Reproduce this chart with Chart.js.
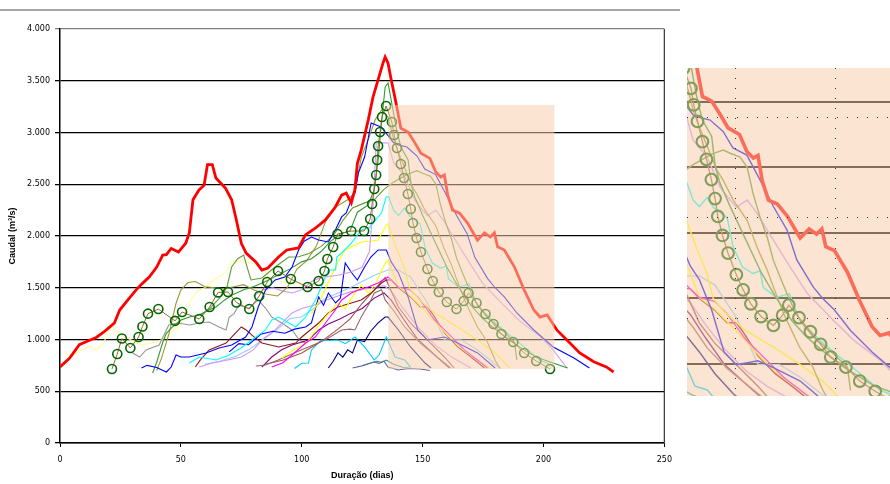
<!DOCTYPE html>
<html>
<head>
<meta charset="utf-8">
<script src="https://cdn.jsdelivr.net/npm/chart.js@4.4.1/dist/chart.umd.min.js"></script>
<style>
  html, body { margin: 0; padding: 0; background: #fff; overflow: hidden; width: 890px; height: 484px; }
  #rule { position: absolute; left: 0; top: 9px; width: 680px; border-top: 2px solid #a6a6a6; }
  #main { position: absolute; left: 0; top: 0; }
  #zoom { position: absolute; left: 687px; top: 68px; }
</style>
</head>
<body>
<div id="rule"></div>
<canvas id="main" width="680" height="484"></canvas>
<canvas id="zoom" width="203" height="328"></canvas>
<script>
// flood hydrographs: [day, flow m3/s]
const redFlow = [[0,735],[4,820],[8,950],[12,990],[15,1020],[18,1070],[20.5,1120],[22.5,1160],[24.7,1285],[28,1380],[31.5,1480],[34,1540],[37,1605],[40,1700],[42.5,1815],[44,1820],[46,1880],[49,1845],[52,1930],[53.5,2030],[55,2350],[57.5,2445],[59.6,2490],[61,2690],[63,2690],[64.5,2560],[68.5,2460],[71,2350],[73,2150],[75,1930],[77,1835],[81,1750],[83.5,1670],[86,1690],[90.5,1800],[93.8,1865],[98.7,1885],[101.5,2010],[105.6,2075],[109.8,2155],[113.9,2280],[116.5,2395],[118.4,2415],[120.5,2320],[122,2450],[123,2700],[124.6,2830],[127.5,3120],[129.5,3345],[131.6,3510],[133.6,3670],[134.5,3730],[135.7,3670],[137,3510],[139,3285],[141,3040],[144,3005],[146.8,2900],[149.3,2800],[153,2750],[155.4,2620],[157.5,2570],[159,2590],[160.4,2395],[162.4,2250],[165.3,2220],[168.6,2125],[172.7,1960],[175.6,2030],[178,1990],[179.7,2030],[181,1895],[183.8,1865],[188,1700],[192,1480],[196,1285],[198.6,1217],[201.5,1237],[205.6,1090],[209.7,995],[215,870],[220.8,785],[226,735],[229,686]];
const circleFlow = [[21.5,715],[23.7,860],[25.6,1010],[29.1,918],[32.5,1024],[34.1,1125],[36.4,1250],[40.7,1294],[47.6,1180],[50.5,1266],[57.6,1198],[61.9,1314],[65.4,1455],[69.5,1459],[73,1358],[78.3,1294],[82.4,1420],[85.7,1555],[90.2,1662],[95.5,1584],[102.4,1507],[107,1565],[109.4,1662],[110.6,1778],[113,1894],[114.8,2019],[120.5,2048],[125.8,2048],[128.3,2164],[129.1,2309],[130,2454],[130.8,2590],[131.2,2735],[131.6,2870],[132.4,3005],[133.2,3150],[134.9,3256],[137.3,3101],[138.2,2976],[139.4,2850],[141,2695],[142.3,2560],[143.9,2406],[145.1,2261],[146,2125],[147.5,1980],[149.3,1845],[152,1681],[154.2,1565],[156.7,1459],[160,1362],[164,1294],[167,1372],[169,1449],[172.3,1353],[176,1246],[179.3,1150],[182.6,1053],[187.5,976],[192,870],[197,792],[202.7,715]];
const greenFlow = [[38.3,676],[40,780],[42.4,966],[44,1060],[46.5,1121],[50,1188],[54,1220],[57.6,1237],[61,1280],[64.5,1314],[68,1380],[71.2,1430],[76,1480],[80,1510],[85,1560],[90,1620],[95,1680],[100,1750],[104,1780],[108,1850],[112,1950],[116,2020],[120,2050],[123,2230],[127.5,2300],[130,2450],[131.6,2735],[132.8,3053],[134.5,3440],[135.7,3478],[137,3314],[139,3053],[141,2860],[144,2735],[145.2,2500],[146.7,2379],[150,2200],[155,1950],[160,1700],[165,1500],[170,1330],[175,1200],[180,1100],[186,990],[192,900],[197,830],[203,780],[210,725]];
const leafFlow = [[58,1230],[62,1300],[66,1400],[69,1500],[71,1700],[73.5,1780],[76,1816],[77.4,1700],[79,1575],[83.5,1594],[89,1700],[94.6,1797],[98.7,1800],[103,1830],[108,1900],[113,2000],[117,2150],[121,2270],[126,2320],[130,2350],[134,2450],[138,2520],[141,2560],[144,2600],[147.7,2631],[150,2607],[153.2,2577],[155.5,2500],[157.4,2301],[159.7,2118],[162,1966],[164,1790],[166.2,1661],[168.4,1537],[170.4,1433],[173,1320],[177,1205],[183.4,1080],[188,976],[189,800]];
const oliveFlow = [[40,700],[42,820],[45,1050],[48,1350],[50,1480],[53,1550],[56,1560],[60,1510],[64,1500],[68,1490],[72,1510],[76,1530],[80,1480],[85,1440],[90,1420],[94,1500],[98,1680],[102,1760],[106,1900],[110,2150],[114,2280],[119,2350],[122,2420],[124.6,2760],[127.5,2930],[130.3,3120],[133,3217],[135.7,3150],[138,2936],[140,2806],[143.5,2607],[145.7,2478],[147.7,2402],[151,2250],[155.5,2096],[158.7,1890],[162,1716],[164,1588],[167.3,1385],[169.4,1281],[172.5,1128],[176.8,976],[180,800],[182,720]];
const paleYellowFlow = [[2,880],[4,840],[6,860],[9,900],[12,930],[15,900],[18,960],[20.5,1110],[23,1090],[26,1030],[30,990],[34,950],[37,960],[40,975],[44,1020],[47,1090],[49,1120],[51,1200],[54,1380],[57,1470],[60.4,1507],[64,1580],[68.5,1643],[71,1749],[75.3,1760],[79,1739],[82,1720],[87.6,1575],[93,1556],[98.7,1550],[102,1520]];
const greyFlow = [[30,870],[33,831],[35.6,899],[41,947],[45,1140],[49,1159],[53.5,1140],[57.6,1159],[61.7,1169],[65.8,1121],[68.7,1092],[70,1217],[72,1250],[74,1333],[78,1300],[82,1382],[85,1304],[87.6,1217],[91.7,1159],[96,1092],[99,995],[102,960]];
const blueFlow = [[33.7,725],[36,750],[40,730],[44,686],[46,734],[48,850],[50,831],[53.5,831],[57,850],[60.4,870],[65.8,918],[71,947],[76.8,1024],[79.4,1121],[82,1314],[85,1478],[89,1575],[93,1604],[96,1700],[98.7,1865],[101,1950],[104,1990],[107,1961],[111,1942],[113.9,2058],[116.5,2184],[118.4,2222],[120,2318],[121,2396],[122,2415],[123.4,2608],[126,2763],[128.7,3092],[130.8,3072],[132.8,3053],[135.9,2964],[138,2900],[140,2880],[143.5,2860],[147.7,2773],[150.9,2647],[155.4,2593],[159.7,2402],[164,2201],[168.4,2023],[171.6,1794],[176.9,1588],[180,1500],[183.8,1411],[189,1256],[196,1092],[204,928],[212.6,821],[219,725]];
const blue2Flow = [[70,880],[74,960],[78,950],[83,1050],[88,1080],[93,1060],[97,1100],[101.6,1121],[104,1160],[107,1411],[109,1330],[111,1449],[114,1353],[116,1400],[118,1739],[120.5,1650],[123,1575],[126,1700],[128.6,1797],[131.6,1865],[135,1865],[137,1750],[140,1643],[144,1411],[148,1092],[152,995],[159,1024],[164.5,966],[172.7,870],[180,725]];
const navyFlow = [[111,725],[113,790],[115,870],[117,830],[119,900],[121,870],[123,995],[126,980],[128.5,1080],[131.6,1160],[134.5,1217],[135.7,1217],[140,1092],[145,928],[151,773],[153.5,725]];
const cyanFlow = [[53.5,773],[57.6,831],[64.5,802],[70,850],[75,920],[79.4,995],[85,1092],[87.6,1188],[90.5,1217],[94,1170],[97.5,1121],[101.6,1217],[105.7,1382],[107,1449],[109.8,1604],[111,1672],[114,1672],[114.5,1797],[116.5,1836],[120.5,1932],[124.6,2058],[128,2080],[131.6,2184],[133,2222],[134.9,2377],[136,2379],[138,2250],[140,2200],[142.5,2270],[144.5,2194],[149,2116],[151,1890],[154,1739],[157.4,1690],[159.7,1711],[160.7,1585],[165,1508],[169.2,1537],[172.5,1334],[179,1182],[185.6,1052],[192,929],[198.5,800],[201.5,773],[204,740]];
const cyan2Flow = [[97,720],[100,770],[102.8,773],[104,899],[108,995],[111,990],[115,995],[118,960],[122,1024],[126,928],[130,802],[132,850],[135,1024],[138.6,831],[142.6,802],[145,734]];
const magentaFlow = [[87.6,734],[92,773],[96,850],[101.6,966],[105.6,1024],[109.8,1159],[113.9,1285],[116.5,1382],[120.5,1449],[123.4,1478],[127.5,1507],[131.6,1546],[135.7,1604],[140,1507],[145,1478],[149,1382],[155,1188],[160.4,1063],[167.3,899],[172.7,802],[176.8,725]];
const yellowFlow = [[91.7,821],[94.6,870],[98.7,928],[102,960],[105.6,1092],[109.8,1217],[113,1300],[115,1353],[118,1300],[122,1450],[124.6,1520],[127.5,1449],[131,1560],[134.5,1739],[135.7,1768],[137,1700],[140,1507],[145,1420],[150,1300],[156,1150],[162,1000],[168,880],[174,780],[178,725]];
const yellow2Flow = [[104,1250],[108,1400],[112,1600],[115,1749],[118,1865],[121,1900],[124.6,1942],[128,1950],[131.6,1961],[134.5,2087],[135.5,2118],[139,1890],[142.5,1690],[144.5,1500],[148,1400],[155,1256],[164.5,1121],[172.7,995],[180,870],[186,725]];
const maroonFlow = [[56,734],[58,800],[61.7,899],[68.7,966],[71,1024],[75,1121],[77,1092],[80,1030],[83.5,966],[90.5,928],[97.5,966],[100,1024],[107,1159],[111,1256],[115,1314],[120.5,1353],[124.6,1382],[128.7,1449],[133,1546],[135,1575],[137,1575],[140,1500],[145,1411],[149,1314],[152,1314],[155,1217],[159,1063],[164.5,928],[170,831],[175.6,725]];
const rosyFlow = [[81,744],[85,754],[90,800],[95,850],[100,900],[105,950],[110,1000],[116.5,1092],[120,1100],[122,1092],[124.6,1217],[128,1350],[130,1449],[133,1480],[134.5,1382],[138,1280],[142.6,1121],[149,966],[156,831],[161.6,725]];
const brownFlow = [[85,760],[92,800],[100,870],[108,980],[115,1100],[120,1200],[125,1350],[130,1480],[134.5,1600],[140,1314],[145,1159],[152,995],[159,831],[163,725]];
const purpleFlow = [[83.5,734],[87.6,831],[91.7,900],[96,947],[102.8,995],[107,1092],[111,1150],[116,1200],[120,1250],[125,1300],[130,1400],[134,1450],[137,1380],[142,1200],[148,1000],[155,850],[161,725]];
const lilacFlow = [[57.6,734],[63,773],[69,800],[75,831],[80,900],[83.5,995],[89,1092],[93,1188],[96,1256],[100,1300],[105,1330],[110,1380],[115,1420],[120,1460],[125,1480],[130,1500],[134,1520],[137,1470],[142,1300],[148,1120],[155,950],[162,830],[170,725]];
const lilac2Flow = [[80,1420],[84,1480],[88,1500],[92,1470],[96,1449],[100,1480],[104,1560],[108,1600],[115,1620],[120,1650],[125,1700],[128,1850],[129.5,2300],[130.8,2898],[133,2900],[135.7,2898],[138,2707],[142.5,2580],[146.7,2349],[150,2250],[152,2195],[155.5,2250],[158.7,2149],[164,1945],[169.4,1740],[175,1537],[183.4,1334],[190,1182],[198.7,1028],[204,900],[209.7,725]];
const skyFlow = [[60,760],[66,790],[72,830],[78,900],[84,1000],[90,1100],[95,1200],[100,1220],[105,1300],[110,1400],[115,1450],[120,1500],[125,1560],[130,1620],[135.7,1672],[140,1672],[145,1604],[152,1353],[156,1159],[159,995],[166,995],[172.7,899],[178,800],[182,725]];
const slateFlow = [[121,725],[124,740],[127,760],[130,783],[132,770],[134,790],[135.7,734],[138,720],[140,705],[144,720],[149,715],[153,700]];
const tealFlow = [[125,745],[128,770],[131,790],[133,780],[135,800],[138,760],[142,730],[146,720]];

// axis ranges and the highlighted window
const dayTicks = [0, 250, 50];
const flowTicks = [0, 4000, 500];
const shadeDays = [135.8, 204.5];
const shadeFlows = [715, 3266];
const insetDays = [136, 201.8];
const insetFlows = [756, 3257];
const insetDotDays = [151.6, 184];
const insetDotFlows = [2883, 2120, 1351];
const veil = 'rgba(247,205,170,0.53)';

const thin = [
  [blueFlow, '#0000ff'], [greenFlow, '#339933'], [leafFlow, '#669933'], [oliveFlow, '#999933'],
  [lilac2Flow, '#cc99ff'], [cyanFlow, '#00ffff'], [yellow2Flow, '#ffff00'], [blue2Flow, '#0000ff'],
  [magentaFlow, '#ff00ff'], [yellowFlow, '#ffff00'], [maroonFlow, '#8b1a1a'], [rosyFlow, '#996666'],
  [brownFlow, '#a05050'], [purpleFlow, '#800080'], [lilacFlow, '#cc99ff'], [skyFlow, '#99ccff'],
  [navyFlow, '#000080'], [cyan2Flow, '#00ccff'], [slateFlow, '#666699'], [tealFlow, '#339999'],
  [greyFlow, '#969696'], [paleYellowFlow, '#ffff99']
];

const pts = a => a.map(([x, y]) => ({ x, y }));

function buildDatasets(k) {
  const sets = [
    { data: pts(redFlow), borderColor: '#ff0000', borderWidth: 2.8 * k, pointRadius: 0 },
    { data: pts(circleFlow), borderColor: '#996633', borderWidth: 1 * k,
      pointRadius: 4.5 * k, pointBorderWidth: 1.6 * k, pointBorderColor: '#006600',
      pointBackgroundColor: 'rgba(0,0,0,0)' }
  ];
  thin.forEach(([d, c]) => sets.push({ data: pts(d), borderColor: c, borderWidth: 1.1 * k, pointRadius: 0 }));
  sets.forEach(s => { s.tension = 0; s.fill = false; });
  return sets;
}

function fmt(v) {
  return v >= 1000 ? Math.floor(v / 1000) + '.' + String(v % 1000).padStart(3, '0') : String(v);
}

const shade = {
  id: 'shade',
  afterDatasetsDraw(chart) {
    const { ctx, chartArea: a, scales: { x, y } } = chart;
    const l = x.getPixelForValue(shadeDays[0]), r = x.getPixelForValue(shadeDays[1]);
    const t = y.getPixelForValue(shadeFlows[1]), b = y.getPixelForValue(shadeFlows[0]);
    ctx.save();
    ctx.fillStyle = veil;
    ctx.fillRect(l, t, r - l, b - t);
    ctx.strokeStyle = '#404040';
    ctx.lineWidth = 1.3;
    ctx.beginPath();
    ctx.moveTo(a.right, a.top);
    ctx.lineTo(a.right, a.bottom);
    ctx.stroke();
    ctx.restore();
  }
};

const tickFont = { family: 'DejaVu Sans', size: 8 };
const titleFont = { family: 'Liberation Sans', size: 9, weight: 'bold' };

new Chart(document.getElementById('main'), {
  type: 'line',
  data: { datasets: buildDatasets(1) },
  options: {
    responsive: false,
    animation: false,
    events: [],
    layout: { autoPadding: false, padding: { left: 0, top: 29, right: 12, bottom: 0 } },
    plugins: { legend: { display: false }, tooltip: { enabled: false } },
    scales: {
      x: {
        type: 'linear', min: dayTicks[0], max: dayTicks[1],
        ticks: { stepSize: dayTicks[2], padding: 8, color: '#000', font: tickFont, maxRotation: 0 },
        grid: { drawOnChartArea: false, tickLength: 4, color: '#000' },
        border: { color: '#000', width: 1.5 },
        title: { display: true, text: 'Duração (dias)', color: '#000', font: titleFont, padding: { top: 0, bottom: 3 } },
        afterFit: s => { s.height = 41; }
      },
      y: {
        min: flowTicks[0], max: flowTicks[1],
        ticks: { stepSize: flowTicks[2], padding: 5, color: '#000', font: tickFont, callback: v => fmt(v) },
        grid: { color: c => (c.tick && c.tick.value === flowTicks[1] ? '#808080' : '#000'), lineWidth: 1.3, tickLength: 5 },
        border: { color: '#000', width: 1.5 },
        title: { display: true, text: 'Caudal (m³/s)', color: '#000', font: titleFont, padding: { top: 7, bottom: 0 } },
        afterFit: s => { s.width = 60; }
      }
    }
  },
  plugins: [shade]
});

// enlarged view of the shaded window
const insetFrame = {
  id: 'insetFrame',
  beforeDatasetsDraw(chart) {
    const { ctx, chartArea: a, scales: { y } } = chart;
    ctx.save();
    ctx.strokeStyle = '#000';
    ctx.lineWidth = 2.2;
    for (let v = flowTicks[0]; v <= flowTicks[1]; v += flowTicks[2]) {
      if (v < insetFlows[0] || v > insetFlows[1]) continue;
      const py = Math.round(y.getPixelForValue(v));
      ctx.beginPath();
      ctx.moveTo(a.left, py);
      ctx.lineTo(a.right, py);
      ctx.stroke();
    }
    ctx.restore();
  },
  afterDatasetsDraw(chart) {
    const { ctx, chartArea: a, scales: { x, y } } = chart;
    ctx.save();
    ctx.fillStyle = veil;
    ctx.fillRect(a.left, a.top, a.right - a.left, a.bottom - a.top);
    ctx.strokeStyle = '#333';
    ctx.lineWidth = 1;
    ctx.setLineDash([1, 9]);
    insetDotDays.forEach(d => {
      const px = Math.round(x.getPixelForValue(d)) + 0.5;
      ctx.beginPath(); ctx.moveTo(px, a.top); ctx.lineTo(px, a.bottom); ctx.stroke();
    });
    insetDotFlows.forEach(v => {
      const py = Math.round(y.getPixelForValue(v)) + 0.5;
      ctx.beginPath(); ctx.moveTo(a.left, py); ctx.lineTo(a.right, py); ctx.stroke();
    });
    ctx.restore();
  }
};

new Chart(document.getElementById('zoom'), {
  type: 'line',
  data: { datasets: buildDatasets(1.3) },
  options: {
    responsive: false,
    animation: false,
    events: [],
    layout: { autoPadding: false, padding: 0 },
    plugins: { legend: { display: false }, tooltip: { enabled: false } },
    scales: {
      x: { type: 'linear', min: insetDays[0], max: insetDays[1], display: false },
      y: { min: insetFlows[0], max: insetFlows[1], display: false }
    }
  },
  plugins: [insetFrame]
});
</script>
</body>
</html>
